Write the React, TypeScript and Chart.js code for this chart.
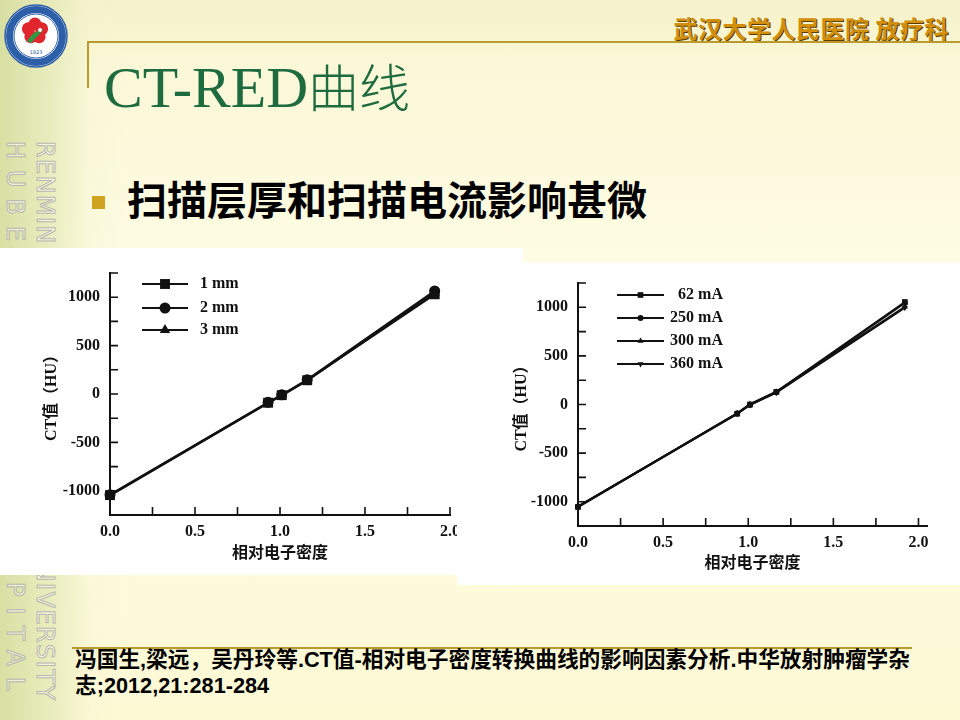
import React, { useEffect, useRef } from 'react';
import { Chart, registerables } from 'chart.js';

Chart.register(...registerables);

// ---------- data ----------
const redThickness = [0.0, 0.93, 1.01, 1.16, 1.91];
const ct1mm = [-1045, -90, -12, 142, 1030];
const ct2mm = [-1040, -86, -8, 148, 1065];
const ct3mm = [-1050, -94, -16, 138, 1045];
const thicknessLabels = ['1 mm', '2 mm', '3 mm'];

const redCurrent = [0.0, 0.935, 1.01, 1.165, 1.92];
const ct62mA = [-1055, -95, 0, 130, 1055];
const ct250mA = [-1050, -92, -5, 125, 1045];
const ct300mA = [-1052, -90, 5, 132, 1005];
const ct360mA = [-1048, -96, -2, 122, 995];
const currentLabels = ['62 mA', '250 mA', '300 mA', '360 mA'];

const xTickLabels = ['0.0', '0.5', '1.0', '1.5', '2.0'];
const yTickLabels = ['-1000', '-500', '0', '500', '1000'];
const xTitle = '相对电子密度';
const yTitle = 'CT值（HU）';

// ---------- helpers ----------
const INK = '#111';
const serif = "'Liberation Serif', 'Noto Sans CJK SC', serif";

function drawMarker(ctx: CanvasRenderingContext2D, style: string, rot: number, r: number, x: number, y: number) {
  ctx.beginPath();
  if (style === 'circle') {
    ctx.arc(x, y, r, 0, Math.PI * 2);
  } else if (style === 'rect') {
    const s = r * Math.SQRT1_2;
    ctx.rect(x - s, y - s, 2 * s, 2 * s);
  } else {
    let a = (rot * Math.PI) / 180;
    for (let i = 0; i < 3; i++) {
      const px = x + Math.sin(a) * r;
      const py = y - Math.cos(a) * r;
      if (i === 0) ctx.moveTo(px, py);
      else ctx.lineTo(px, py);
      a += (2 * Math.PI) / 3;
    }
    ctx.closePath();
  }
  ctx.fill();
}

const inwardTicks = {
  id: 'inwardTicks',
  beforeDatasetsDraw(chart: any, _args: any, opts: any) {
    const { ctx, chartArea } = chart;
    const xs = chart.scales.x;
    const ys = chart.scales.y;
    ctx.save();
    ctx.strokeStyle = INK;
    ctx.lineWidth = 1.6;
    ctx.beginPath();
    xs.ticks.forEach((t: any) => {
      const p = xs.getPixelForValue(t.value);
      ctx.moveTo(p, chartArea.bottom);
      ctx.lineTo(p, chartArea.bottom - opts.len);
    });
    ys.ticks.forEach((t: any) => {
      const p = ys.getPixelForValue(t.value);
      ctx.moveTo(chartArea.left, p);
      ctx.lineTo(chartArea.left + opts.len, p);
    });
    ctx.stroke();
    ctx.restore();
  },
};

const lineLegend = {
  id: 'lineLegend',
  afterDatasetsDraw(chart: any, _args: any, opts: any) {
    const { ctx, chartArea } = chart;
    ctx.save();
    ctx.font = opts.font;
    ctx.textBaseline = 'middle';
    ctx.textAlign = opts.align;
    chart.data.datasets.forEach((ds: any, i: number) => {
      const y = chartArea.top + opts.rows[i];
      const x0 = chartArea.left + opts.x0;
      const x1 = chartArea.left + opts.x1;
      ctx.strokeStyle = ds.borderColor;
      ctx.lineWidth = ds.borderWidth;
      ctx.beginPath();
      ctx.moveTo(x0, y);
      ctx.lineTo(x1, y);
      ctx.stroke();
      ctx.fillStyle = ds.pointBackgroundColor;
      drawMarker(ctx, ds.pointStyle, ds.pointRotation || 0, ds.pointRadius, (x0 + x1) / 2, y);
      ctx.fillStyle = INK;
      ctx.fillText(ds.label, chartArea.left + opts.textX, y);
    });
    ctx.restore();
  },
};

function makeDataset(label: string, xs: number[], ys: number[], style: string, r: number, rot = 0) {
  return {
    label,
    data: xs.map((x, i) => ({ x, y: ys[i] })),
    showLine: true,
    borderColor: INK,
    borderWidth: 2,
    pointBackgroundColor: INK,
    pointBorderColor: INK,
    pointBorderWidth: 0,
    pointStyle: style,
    pointRadius: r,
    pointRotation: rot,
    clip: false,
  };
}

type ChartProps = {
  width: number;
  height: number;
  datasets: any[];
  xMax: number;
  yAxisWidth: number;
  xAxisHeight: number;
  padding: any;
  yTitlePad: number;
  xTitlePad: number;
  legend: any;
};

function CtChart(p: ChartProps) {
  const ref = useRef<HTMLCanvasElement>(null);
  useEffect(() => {
    const tickFont = { family: serif, size: 16, weight: 'bold' as const };
    const titleFont = { family: serif, size: 16, weight: 'bold' as const };
    const chart = new Chart(ref.current as HTMLCanvasElement, {
      type: 'scatter',
      data: { datasets: p.datasets },
      options: {
        responsive: false,
        animation: false,
        devicePixelRatio: 1,
        layout: { padding: p.padding },
        plugins: {
          legend: { display: false },
          tooltip: { enabled: false },
          // @ts-ignore
          inwardTicks: { len: 8 },
          // @ts-ignore
          lineLegend: p.legend,
        },
        scales: {
          x: {
            type: 'linear',
            min: 0,
            max: p.xMax,
            afterFit: (s: any) => {
              s.height = p.xAxisHeight;
            },
            grid: { display: false, drawTicks: false },
            border: { display: true, color: INK, width: 2 },
            ticks: {
              stepSize: 0.25,
              autoSkip: false,
              includeBounds: false,
              maxRotation: 0,
              padding: 7,
              color: INK,
              font: tickFont,
              callback: (v: any) => {
                const s = Number(v).toFixed(2).slice(0, -1);
                return xTickLabels.includes(s) ? s : '';
              },
            },
            title: { display: true, text: xTitle, color: INK, font: titleFont, padding: { top: 0, bottom: p.xTitlePad } },
          },
          y: {
            type: 'linear',
            min: -1250,
            max: 1250,
            afterFit: (s: any) => {
              s.width = p.yAxisWidth;
            },
            grid: { display: false, drawTicks: false },
            border: { display: true, color: INK, width: 2 },
            ticks: {
              stepSize: 250,
              autoSkip: false,
              padding: 10,
              color: INK,
              font: tickFont,
              callback: (v: any) => {
                const s = String(Math.round(Number(v)));
                return yTickLabels.includes(s) ? s : '';
              },
            },
            title: { display: true, text: yTitle, color: INK, font: titleFont, padding: { top: p.yTitlePad, bottom: 0 } },
          },
        },
      },
      plugins: [inwardTicks, lineLegend],
    } as any);
    return () => chart.destroy();
  }, []);
  return <canvas ref={ref} width={p.width} height={p.height} style={{ display: 'block', width: p.width, height: p.height }} />;
}

const leftDatasets = [
  makeDataset(thicknessLabels[0], redThickness, ct1mm, 'rect', 7),
  makeDataset(thicknessLabels[1], redThickness, ct2mm, 'circle', 5.5),
  makeDataset(thicknessLabels[2], redThickness, ct3mm, 'triangle', 6),
];

const rightDatasets = [
  makeDataset(currentLabels[0], redCurrent, ct62mA, 'rect', 4),
  makeDataset(currentLabels[1], redCurrent, ct250mA, 'circle', 3),
  makeDataset(currentLabels[2], redCurrent, ct300mA, 'triangle', 3.5),
  makeDataset(currentLabels[3], redCurrent, ct360mA, 'triangle', 3.5, 180),
];

const gold = '#b99a2c';

export default function App() {
  return (
    <div
      style={{
        position: 'fixed',
        left: 0,
        top: 0,
        width: 960,
        height: 720,
        overflow: 'hidden',
        background: 'linear-gradient(180deg, #f5f1c9 0px, #fbf8d8 70px, #fffde6 320px, #fdf9d5 720px)',
      }}
    >
      {/* left greenish strip */}
      <div
        style={{
          position: 'absolute',
          left: 0,
          top: 0,
          width: 130,
          height: 720,
          background: 'linear-gradient(90deg, rgba(214,222,160,0.95) 0px, rgba(228,233,182,0.8) 50px, rgba(245,245,210,0.4) 90px, rgba(255,255,230,0) 130px)',
        }}
      />
      {/* vertical decorative texts */}
      <div
        style={{
          position: 'absolute',
          left: 31,
          top: 141,
          writingMode: 'vertical-rl',
          fontFamily: "'DejaVu Sans', sans-serif",
          fontSize: 24,
          lineHeight: '28px',
          color: 'rgba(255,255,255,0.5)',
          WebkitTextStroke: '1px #b8b8ae',
          whiteSpace: 'nowrap',
          letterSpacing: '1.4px',
        }}
      >
        RENMIN HOSPITAL OF WUHAN UNIVERSITY
      </div>
      <div
        style={{
          position: 'absolute',
          left: 1,
          top: 141,
          writingMode: 'vertical-rl',
          fontFamily: "'DejaVu Sans', sans-serif",
          fontSize: 24,
          lineHeight: '28px',
          color: 'rgba(255,255,255,0.5)',
          WebkitTextStroke: '1px #b8b8ae',
          whiteSpace: 'nowrap',
          letterSpacing: '11px',
        }}
      >
        HUBEI GENERAL HOSPITAL
      </div>

      {/* logo */}
      <svg width={72} height={72} style={{ position: 'absolute', left: 0, top: 0 }}>
        <circle cx={36} cy={36} r={31} fill="#fff" stroke="#2d5ea8" strokeWidth={1.5} />
        <circle cx={36} cy={36} r={26.5} fill="none" stroke="#2d5ea8" strokeWidth={7} />
        <circle cx={36} cy={36} r={22} fill="#fff" stroke="#2d5ea8" strokeWidth={1} />
        {[0, 72, 144, 216, 288].map((a) => (
          <circle
            key={a}
            cx={35 + Math.sin((a * Math.PI) / 180) * 7}
            cy={31 - Math.cos((a * Math.PI) / 180) * 7}
            r={6.5}
            fill="#e0262c"
          />
        ))}
        <path d="M27 41 Q34 30 44 29 Q38 36 31 43 Z" fill="#2e9a44" />
        <circle cx={40} cy={30} r={2} fill="#fff" />
        <text x={36} y={54} fontSize={5} textAnchor="middle" fill="#2d5ea8" fontFamily="DejaVu Sans">1923</text>
      </svg>

      {/* header */}
      <div
        style={{
          position: 'absolute',
          right: 11,
          top: 16,
          fontFamily: "'Noto Sans CJK SC', sans-serif",
          fontWeight: 700,
          fontSize: 24,
          lineHeight: '24px',
          letterSpacing: '0.5px',
          color: '#d18f0c',
          textShadow: '1px 1px 0 #5b3b00',
          whiteSpace: 'nowrap',
        }}
      >
        武汉大学人民医院 放疗科
      </div>
      <div style={{ position: 'absolute', left: 88, top: 41, width: 872, height: 2, background: gold }} />
      <div style={{ position: 'absolute', left: 87, top: 41, width: 2, height: 47, background: gold }} />

      {/* title */}
      <div
        style={{
          position: 'absolute',
          left: 104,
          top: 56,
          fontFamily: "'Liberation Serif', serif",
          fontSize: 58,
          lineHeight: '58px',
          color: '#1d6b3e',
          whiteSpace: 'nowrap',
        }}
      >
        CT-RED
        <span style={{ fontFamily: "'Noto Sans CJK SC', sans-serif", fontSize: 51, fontWeight: 300 }}>曲线</span>
      </div>

      {/* bullet */}
      <div style={{ position: 'absolute', left: 92, top: 196, width: 13, height: 13, background: '#cfa21f' }} />
      <div
        style={{
          position: 'absolute',
          left: 127,
          top: 178,
          fontFamily: "'Noto Sans CJK SC', sans-serif",
          fontWeight: 700,
          fontSize: 40,
          lineHeight: '40px',
          color: '#000',
          whiteSpace: 'nowrap',
        }}
      >
        扫描层厚和扫描电流影响甚微
      </div>

      {/* left chart panel */}
      <div style={{ position: 'absolute', left: 0, top: 248, width: 523, height: 327, background: '#fff', zIndex: 2 }}>
        <CtChart
          width={523}
          height={327}
          datasets={leftDatasets}
          xMax={2.0}
          yAxisWidth={110}
          xAxisHeight={60}
          padding={{ top: 25, right: 73, left: 0, bottom: 0 }}
          yTitlePad={42}
          xTitlePad={12}
          legend={{ x0: 32, x1: 78, rows: [11, 35, 57], textX: 90, align: 'left', font: `bold 16px ${serif}` }}
        />
      </div>

      {/* right chart panel */}
      <div style={{ position: 'absolute', left: 457, top: 262, width: 503, height: 323, background: '#fff', zIndex: 3 }}>
        <CtChart
          width={503}
          height={323}
          datasets={rightDatasets}
          xMax={2.05}
          yAxisWidth={121}
          xAxisHeight={59}
          padding={{ top: 21, right: 33, left: 0, bottom: 0 }}
          yTitlePad={55}
          xTitlePad={12}
          legend={{ x0: 39, x1: 86, rows: [12, 35, 58, 81], textX: 145, align: 'right', font: `bold 16px ${serif}` }}
        />
      </div>

      {/* reference */}
      <div style={{ position: 'absolute', left: 72, top: 647, width: 840, height: 2, background: gold, zIndex: 1 }} />
      <div
        style={{
          position: 'absolute',
          left: 75,
          top: 647,
          fontFamily: "'Liberation Sans', 'Noto Sans CJK SC', sans-serif",
          fontWeight: 700,
          fontSize: 21.7,
          lineHeight: '26px',
          color: '#000',
          whiteSpace: 'nowrap',
          zIndex: 2,
        }}
      >
        冯国生,梁远，吴丹玲等.CT值-相对电子密度转换曲线的影响因素分析.中华放射肿瘤学杂
        <br />
        志;2012,21:281-284
      </div>
    </div>
  );
}
